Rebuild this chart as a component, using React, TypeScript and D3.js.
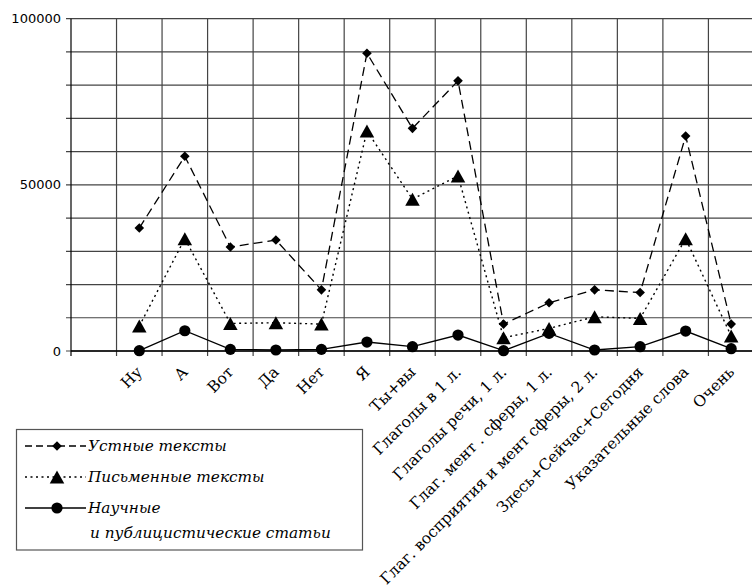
import React from "react";
import * as d3 from "d3";

const categories = [
  "Ну", "А", "Вот", "Да", "Нет", "Я", "Ты+вы", "Глаголы в 1 л.",
  "Глаголы речи, 1 л.", "Глаг. мент . сферы, 1 л.",
  "Глаг. восприятия и мент сферы, 2 л.", "Здесь+Сейчас+Сегодня",
  "Указательные слова", "Очень",
];
const oral = [37000, 58600, 31300, 33400, 18400, 89600, 67000, 81300, 8100, 14500, 18400, 17600, 64700, 8100];
const written = [7500, 33800, 8300, 8500, 8100, 66200, 45700, 52700, 4000, 6800, 10300, 9800, 33800, 4500];
const scientific = [100, 6100, 500, 300, 500, 2700, 1300, 4800, 100, 5300, 300, 1300, 6000, 700];
const yTickLabels = [0, 50000, 100000];
const legendLabels = ["Устные тексты", "Письменные тексты", "Научные", "и публицистические статьи"];

const W = 752, H = 587;
const left = 71, top = 18.7, bottom = 351;
const bandW = 45.53;

export default function App() {
  const domain = ["", ...categories];
  const x = d3.scaleBand<string>().domain(domain).range([left, left + bandW * domain.length]).padding(0);
  const y = d3.scaleLinear().domain([0, 100000]).range([bottom, top]);
  const cx = (c: string) => (x(c) as number) + x.bandwidth() / 2;
  const line = d3.line<number>().x((_, i) => cx(categories[i])).y((v) => y(v));
  const gridY = d3.range(0, 100001, 10000);
  const gridX = d3.range(0, domain.length + 1).map((i) => left + i * x.bandwidth());
  const right = left + bandW * domain.length;
  const gridColor = "#444";
  const serif = "'DejaVu Serif', serif";

  const diamond = (px: number, py: number, r = 4.8) =>
    `M${px},${py - r}L${px + r},${py}L${px},${py + r}L${px - r},${py}Z`;
  const triangle = (px: number, py: number, w = 14.5, h = 13) =>
    `M${px},${py - h / 2}L${px + w / 2},${py + h / 2}L${px - w / 2},${py + h / 2}Z`;

  return (
    <svg width={W} height={H} style={{ position: "absolute", left: 0, top: 0, background: "#fff" }}>
      <rect x={0} y={0} width={W} height={H} fill="#fff" />
      {/* grid */}
      {gridY.map((v) => (
        <line key={"gy" + v} x1={left - 5} x2={right} y1={y(v)} y2={y(v)} stroke={gridColor} strokeWidth={1.2} />
      ))}
      {gridX.map((gx, i) => (
        <line key={"gx" + i} x1={gx} x2={gx} y1={top} y2={bottom + 5} stroke={i === 0 ? "#000" : gridColor} strokeWidth={1.2} />
      ))}
      <line x1={left} x2={right} y1={bottom} y2={bottom} stroke="#000" strokeWidth={1.3} />
      {yTickLabels.map((v) => (
        <text key={"yl" + v} x={left - 10} y={y(v)} dy="0.35em" textAnchor="end"
          fontFamily="'DejaVu Sans', sans-serif" fontSize={13} fill="#000">{v}</text>
      ))}
      {/* series lines */}
      <path d={line(oral) || ""} fill="none" stroke="#000" strokeWidth={1.3} strokeDasharray="9,5" />
      <path d={line(written) || ""} fill="none" stroke="#000" strokeWidth={1.4} strokeDasharray="2,3.5" />
      <path d={line(scientific) || ""} fill="none" stroke="#000" strokeWidth={1.3} />
      {/* markers */}
      {oral.map((v, i) => <path key={"o" + i} d={diamond(cx(categories[i]), y(v))} fill="#000" />)}
      {written.map((v, i) => <path key={"w" + i} d={triangle(cx(categories[i]), y(v))} fill="#000" />)}
      {scientific.map((v, i) => <circle key={"s" + i} cx={cx(categories[i])} cy={y(v)} r={5.6} fill="#000" />)}
      {/* x labels */}
      {categories.map((c) => (
        <text key={"xl" + c} transform={`translate(${cx(c) + 4},${bottom + 22}) rotate(-45)`}
          textAnchor="end" fontFamily={serif} fontSize={15.5} fill="#000">{c}</text>
      ))}
      {/* legend */}
      <rect x={16.5} y={429.5} width={346} height={120.5} fill="#fff" stroke="#555" strokeWidth={1.2} />
      <g>
        <line x1={25} x2={86} y1={446} y2={446} stroke="#000" strokeWidth={1.3} strokeDasharray="7,4" />
        <path d={diamond(57, 446)} fill="#000" />
        <line x1={25} x2={86} y1={477} y2={477} stroke="#000" strokeWidth={1.4} strokeDasharray="2,3.5" />
        <path d={triangle(57, 477)} fill="#000" />
        <line x1={25} x2={86} y1={508} y2={508} stroke="#000" strokeWidth={1.3} />
        <circle cx={57} cy={508} r={5.6} fill="#000" />
        {legendLabels.map((t, i) => (
          <text key={"lg" + i} x={i === 3 ? 90 : 88} y={[446, 477, 508, 533][i]} dy="0.35em"
            fontFamily={serif} fontStyle="italic" fontSize={15.3} fill="#000">{t}</text>
        ))}
      </g>
    </svg>
  );
}
